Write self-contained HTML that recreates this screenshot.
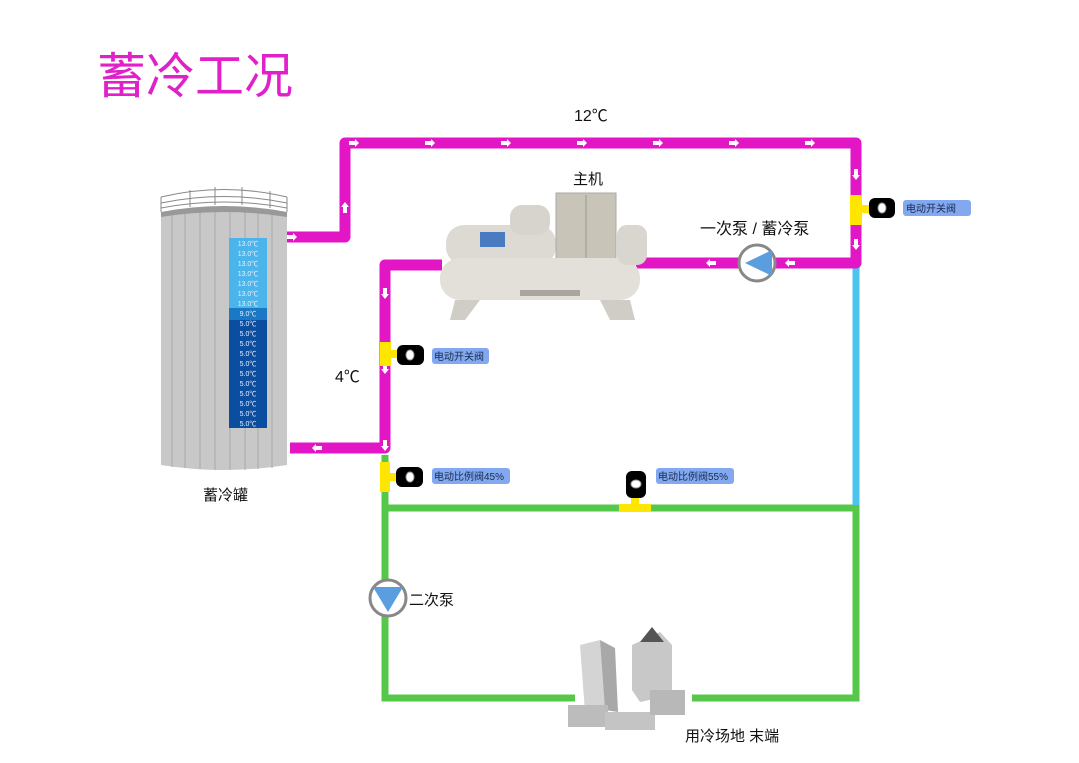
<!DOCTYPE html>
<html><head><meta charset="utf-8"><style>
html,body{margin:0;padding:0;background:#fff;}
svg{display:block;font-family:"Liberation Sans","Noto Sans CJK SC",sans-serif;}
</style></head><body>
<svg width="1079" height="763" viewBox="0 0 1079 763" xmlns="http://www.w3.org/2000/svg">
<text x="97" y="93" font-size="49" fill="#e020c8">蓄冷工况</text>
<text x="574" y="121" font-size="16" fill="#111">12℃</text>
<text x="573" y="184" font-size="15" fill="#111">主机</text>
<text x="700" y="234" font-size="16" fill="#111">一次泵 / 蓄冷泵</text>
<text x="335" y="382" font-size="16" fill="#111">4℃</text>
<text x="409" y="605" font-size="15" fill="#111">二次泵</text>
<text x="685" y="741" font-size="15" fill="#111">用冷场地 末端</text>
<text x="203" y="500" font-size="15" fill="#111">蓄冷罐</text>

<g fill="none" stroke="#55c84a" stroke-width="7">
<polyline points="385,455 385,698 575,698"/>
<polyline points="385,508 856,508 856,698 692,698"/>
</g>
<line x1="856" y1="266" x2="856" y2="505" stroke="#4cc4ee" stroke-width="7"/>
<g fill="none" stroke="#e316c6" stroke-width="11" stroke-linejoin="round">
<polyline points="285,237 345,237 345,143 856,143 856,263 636,263"/>
<polyline points="442,265 385,265 385,448 290,448"/>
</g>
<g fill="#fff">
<polygon points="287,235 293,235 293,233 297,237 293,241 293,239 287,239"/>
<polygon points="343,213 347,213 347,207 349,207 345,202 341,207 343,207"/>
<g id="ar"><polygon points="349,141 355,141 355,139 359,143 355,147 355,145 349,145"/></g>
<use href="#ar" x="76"/><use href="#ar" x="152"/><use href="#ar" x="228"/><use href="#ar" x="304"/><use href="#ar" x="380"/><use href="#ar" x="456"/>
<polygon points="854,169 858,169 858,175 860,175 856,180 852,175 854,175"/>
<polygon points="854,239 858,239 858,245 860,245 856,250 852,245 854,245"/>
<polygon points="795,261 789,261 789,259 785,263 789,267 789,265 795,265"/>
<polygon points="716,261 710,261 710,259 706,263 710,267 710,265 716,265"/>
<polygon points="383,288 387,288 387,294 389,294 385,299 381,294 383,294"/>
<polygon points="383,363 387,363 387,369 389,369 385,374 381,369 383,369"/>
<polygon points="383,440 387,440 387,446 389,446 385,451 381,446 383,446"/>
<polygon points="322,446 316,446 316,444 312,448 316,452 316,450 322,450"/>
</g>
<g fill="#ffe600">
<rect x="850" y="195" width="12" height="30"/><rect x="862" y="205" width="8" height="8"/>
<rect x="380" y="342" width="11" height="24"/><rect x="391" y="350" width="6" height="8"/>
<rect x="380" y="462" width="10" height="30"/><rect x="390" y="473" width="6" height="8"/>
<rect x="619" y="504" width="32" height="8"/><rect x="631" y="497" width="8" height="8"/>
</g>
<g>
<rect x="869" y="198" width="26" height="20" rx="6" fill="#000"/><ellipse cx="882" cy="208" rx="4" ry="5" fill="#fff" stroke="#999"/>
<rect x="397" y="345" width="27" height="20" rx="6" fill="#000"/><ellipse cx="410" cy="355" rx="4" ry="5" fill="#fff" stroke="#999"/>
<rect x="396" y="467" width="27" height="20" rx="6" fill="#000"/><ellipse cx="410" cy="477" rx="4" ry="5" fill="#fff" stroke="#999"/>
<rect x="626" y="471" width="20" height="27" rx="6" fill="#000"/><ellipse cx="636" cy="484" rx="5" ry="4" fill="#fff" stroke="#999"/>
</g>
<g font-size="10" fill="#1a2a50">
<rect x="903" y="200" width="68" height="16" rx="3" fill="#82a8f0"/><text x="906" y="212">电动开关阀</text>
<rect x="432" y="348" width="57" height="16" rx="3" fill="#82a8f0"/><text x="434" y="360">电动开关阀</text>
<rect x="432" y="468" width="78" height="16" rx="3" fill="#82a8f0"/><text x="434" y="480">电动比例阀45%</text>
<rect x="656" y="468" width="78" height="16" rx="3" fill="#82a8f0"/><text x="658" y="480">电动比例阀55%</text>
</g>
<circle cx="757" cy="263" r="18" fill="#fff" stroke="#888" stroke-width="3"/>
<polygon points="745,263 772,250 772,276" fill="#5a9ee0"/>
<circle cx="388" cy="598" r="18" fill="#fff" stroke="#888" stroke-width="3"/>
<polygon points="373,587 403,587 388,612" fill="#5a9ee0"/>
<path d="M161,215 Q224,205 287,215 L287,465 Q224,475 161,465 Z" fill="#c8c8c8"/>
<g stroke="#a8a8a8" stroke-width="1">
<line x1="172" y1="215" x2="172" y2="467"/><line x1="185" y1="213" x2="185" y2="468"/><line x1="200" y1="212" x2="200" y2="469"/><line x1="215" y1="211" x2="215" y2="470"/><line x1="230" y1="211" x2="230" y2="470"/><line x1="245" y1="211" x2="245" y2="470"/><line x1="258" y1="212" x2="258" y2="469"/><line x1="272" y1="213" x2="272" y2="468"/>
</g>
<path d="M161,212 Q224,200 287,212 L287,217 Q224,207 161,217 Z" fill="#999"/>
<g stroke="#888" fill="none" stroke-width="1">
<path d="M161,197 Q224,182 287,197"/><path d="M161,203 Q224,190 287,203"/><path d="M161,208 Q224,196 287,208"/>
<line x1="161" y1="197" x2="161" y2="212"/><line x1="190" y1="190" x2="190" y2="207"/><line x1="215" y1="187" x2="215" y2="205"/><line x1="242" y1="187" x2="242" y2="205"/><line x1="270" y1="191" x2="270" y2="208"/><line x1="287" y1="197" x2="287" y2="212"/>
</g>
<g font-size="7" fill="#e8f0ff" text-anchor="middle">
<rect x="229" y="238" width="38" height="70" fill="#4bb4ea"/>
<rect x="229" y="308" width="38" height="12" fill="#1a78c4"/>
<rect x="229" y="320" width="38" height="108" fill="#0b4ea0"/>
<text x="248" y="246">13.0℃</text><text x="248" y="256">13.0℃</text><text x="248" y="266">13.0℃</text><text x="248" y="276">13.0℃</text><text x="248" y="286">13.0℃</text><text x="248" y="296">13.0℃</text><text x="248" y="306">13.0℃</text>
<text x="248" y="316">9.0℃</text><text x="248" y="326">5.0℃</text><text x="248" y="336">5.0℃</text><text x="248" y="346">5.0℃</text><text x="248" y="356">5.0℃</text><text x="248" y="366">5.0℃</text><text x="248" y="376">5.0℃</text><text x="248" y="386">5.0℃</text><text x="248" y="396">5.0℃</text><text x="248" y="406">5.0℃</text><text x="248" y="416">5.0℃</text><text x="248" y="426">5.0℃</text>
</g>
<g>
<rect x="446" y="225" width="110" height="40" rx="18" fill="#dcdad2"/>
<rect x="510" y="205" width="40" height="30" rx="12" fill="#d6d4cc"/>
<rect x="556" y="193" width="60" height="70" fill="#c8c4b8" stroke="#aaa"/>
<line x1="586" y1="195" x2="586" y2="262" stroke="#999"/>
<rect x="440" y="258" width="200" height="42" rx="20" fill="#e2e0d8"/>
<rect x="617" y="225" width="30" height="40" rx="10" fill="#d8d6ce"/>
<polygon points="455,300 480,300 465,320 450,320" fill="#cfcdc5"/>
<polygon points="600,300 630,300 635,320 610,320" fill="#cfcdc5"/>
<rect x="480" y="232" width="25" height="15" fill="#4a7ac0"/>
<rect x="520" y="290" width="60" height="6" fill="#a8a69e"/>
</g>
<g>
<polygon points="580,645 600,640 605,710 585,712" fill="#d4d4d4"/>
<polygon points="600,640 615,648 618,712 605,710" fill="#a8a8a8"/>
<polygon points="632,645 660,632 672,645 672,695 640,702 632,690" fill="#c8c8c8"/>
<polygon points="640,642 652,627 664,642" fill="#555"/>
<rect x="568" y="705" width="40" height="22" fill="#bcbcbc"/>
<rect x="605" y="712" width="50" height="18" fill="#c4c4c4"/>
<rect x="650" y="690" width="35" height="25" fill="#b8b8b8"/>
</g>
</svg>
</body></html>
